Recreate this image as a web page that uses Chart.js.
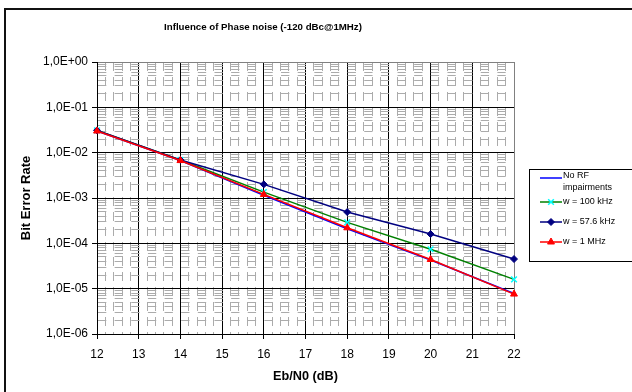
<!DOCTYPE html>
<html>
<head>
<meta charset="utf-8">
<script src="https://cdn.jsdelivr.net/npm/chart.js@4.4.1/dist/chart.umd.min.js"></script>
<style>
    html, body { margin: 0; padding: 0; background: #fff; }
    #wrap { width: 632px; height: 392px; }
</style>
</head>
<body>
<div id="wrap"><canvas id="ber-chart" width="632" height="392"></canvas></div>
<script>
"use strict";

// values
const ebN0 = [12, 14, 16, 18, 20, 22];
const berNoRf = [3.0e-2, 6.7e-3, 1.15e-3, 2.1e-4, 4.3e-5, 7.8e-6];
const ber100k = [3.1e-2, 6.9e-3, 1.35e-3, 2.9e-4, 7.4e-5, 1.6e-5];
const ber57k = [3.1e-2, 6.9e-3, 2.0e-3, 4.9e-4, 1.6e-4, 4.5e-5];
const ber1M = [3.0e-2, 6.7e-3, 1.2e-3, 2.2e-4, 4.4e-5, 7.6e-6];

const xTickLabels = [12, 13, 14, 15, 16, 17, 18, 19, 20, 21, 22];
const yDecades = [1, 1e-1, 1e-2, 1e-3, 1e-4, 1e-5, 1e-6];
const yTickLabels = ['1,0E+00', '1,0E-01', '1,0E-02', '1,0E-03', '1,0E-04', '1,0E-05', '1,0E-06'];

const seriesNames = ['No RF impairments', 'w = 100 kHz', 'w = 57.6 kHz', 'w = 1 MHz'];

const FONT = '"Liberation Sans", Arial, sans-serif';
const MINOR = '#ababab';

function isMajorX(v) {
    return Math.abs(v - Math.round(v)) < 1e-6;
}
function isMajorY(v) {
    const l = Math.log10(v);
    return Math.abs(l - Math.round(l)) < 1e-6;
}
function toPoints(ys) {
    return ebN0.map((x, i) => ({ x: x, y: ys[i] }));
}

const chartFrame = {
    id: 'chartFrame',
    beforeDraw(chart) {
        const c = chart.ctx;
        c.save();
        c.strokeStyle = '#111';
        c.lineWidth = 2;
        c.strokeRect(5, 9, 700, 500);
        c.restore();
    },
    afterDraw(chart) {
        const c = chart.ctx;
        c.save();
        // title
        c.fillStyle = '#000';
        c.font = 'bold 9.7px ' + FONT;
        c.textAlign = 'center';
        c.textBaseline = 'middle';
        c.fillText('Influence of Phase noise (-120 dBc@1MHz)', 263, 27);

        // legend
        c.strokeStyle = '#000';
        c.lineWidth = 1;
        c.strokeRect(529.5, 169.5, 130, 92);
        const rows = [
            { y: 178, text: ['No RF', 'impairments'] },
            { y: 202, text: ['w = 100 kHz'] },
            { y: 222, text: ['w = 57.6 kHz'] },
            { y: 242, text: ['w = 1 MHz'] }
        ];
        c.font = '9px ' + FONT;
        c.textAlign = 'left';
        chart.data.datasets.forEach((ds, i) => {
            const r = rows[i];
            c.strokeStyle = ds.borderColor;
            c.lineWidth = 1.5;
            c.beginPath();
            c.moveTo(540, r.y);
            c.lineTo(562, r.y);
            c.stroke();
            if (ds.pointRadius > 0) {
                const opts = {
                    pointStyle: ds.pointStyle,
                    radius: ds.pointRadius,
                    rotation: 0,
                    borderWidth: ds.pointBorderWidth
                };
                c.strokeStyle = ds.pointBorderColor;
                c.fillStyle = ds.pointBackgroundColor;
                c.lineWidth = ds.pointBorderWidth;
                Chart.helpers.drawPoint(c, opts, 551, r.y);
            }
            c.fillStyle = '#000';
            r.text.forEach((t, k) => c.fillText(t, 563, r.y - (r.text.length > 1 ? 2 : 0) + k * 12));
        });
        c.restore();
    }
};

new Chart(document.getElementById('ber-chart'), {
    type: 'line',
    data: {
        datasets: [{
            label: seriesNames[0],
            data: toPoints(berNoRf),
            borderColor: '#0000ff',
            borderWidth: 1.5,
            pointRadius: 0,
            order: 4
        }, {
            label: seriesNames[1],
            data: toPoints(ber100k),
            borderColor: '#008000',
            borderWidth: 1.5,
            pointStyle: 'crossRot',
            pointRadius: 4,
            pointBorderColor: '#00ffff',
            pointBackgroundColor: '#00ffff',
            pointBorderWidth: 1.5,
            order: 3
        }, {
            label: seriesNames[2],
            data: toPoints(ber57k),
            borderColor: '#000080',
            borderWidth: 1.5,
            pointStyle: 'rectRot',
            pointRadius: 3.5,
            pointBorderColor: '#000080',
            pointBackgroundColor: '#000080',
            pointBorderWidth: 1,
            order: 2
        }, {
            label: seriesNames[3],
            data: toPoints(ber1M),
            borderColor: '#ff0000',
            borderWidth: 1.5,
            pointStyle: 'triangle',
            pointRadius: 4,
            pointBorderColor: '#ff0000',
            pointBackgroundColor: '#ff0000',
            pointBorderWidth: 1,
            order: 1
        }]
    },
    options: {
        responsive: false,
        animation: false,
        devicePixelRatio: 1,
        layout: {
            padding: { left: 0, right: 118, top: 62, bottom: 0 }
        },
        elements: {
            line: { tension: 0, fill: false }
        },
        datasets: {
            line: { clip: false }
        },
        plugins: {
            legend: { display: false },
            title: { display: false },
            tooltip: { enabled: false }
        },
        scales: {
            x: {
                type: 'linear',
                min: xTickLabels[0],
                max: xTickLabels[xTickLabels.length - 1],
                afterBuildTicks: scale => {
                    const ticks = [];
                    for (let i = 0; i < xTickLabels.length; i++) {
                        ticks.push({ value: xTickLabels[i] });
                        if (i < xTickLabels.length - 1) {
                            for (let k = 1; k < 5; k++) ticks.push({ value: xTickLabels[i] + k / 5 });
                        }
                    }
                    scale.ticks = ticks;
                },
                afterFit: scale => { scale.height = 58; },
                ticks: {
                    autoSkip: false,
                    maxRotation: 0,
                    padding: 8,
                    color: '#000',
                    font: { family: FONT, size: 12 },
                    callback: v => isMajorX(v) ? String(Math.round(v)) : ''
                },
                grid: {
                    color: ctx => {
                        if (!ctx.tick) return '#000';
                        if (ctx.tick.value === 22) return '#808080';
                        return isMajorX(ctx.tick.value) ? '#000' : MINOR;
                    },
                    lineWidth: 1,
                    tickLength: 5,
                    tickColor: ctx => ctx.tick && isMajorX(ctx.tick.value) ? '#000' : 'rgba(0,0,0,0)'
                },
                border: {
                    color: '#000',
                    width: 1,
                    dash: ctx => ctx.tick && !isMajorX(ctx.tick.value) ? [9, 6] : []
                },
                title: {
                    display: true,
                    text: 'Eb/N0 (dB)',
                    color: '#000',
                    font: { family: FONT, size: 12.7, weight: 'bold' },
                    padding: { top: 0, bottom: 8 }
                }
            },
            y: {
                type: 'logarithmic',
                min: yDecades[yDecades.length - 1],
                max: yDecades[0],
                afterBuildTicks: scale => {
                    const ticks = [];
                    for (let i = yDecades.length - 1; i >= 0; i--) {
                        ticks.push({ value: yDecades[i], major: true });
                        if (i > 0) {
                            for (let k = 2; k < 10; k++) ticks.push({ value: yDecades[i] * k });
                        }
                    }
                    scale.ticks = ticks;
                },
                afterFit: scale => { scale.width = 97; },
                ticks: {
                    autoSkip: false,
                    padding: 4,
                    color: '#000',
                    font: { family: FONT, size: 12 },
                    callback: v => {
                        const idx = yDecades.findIndex(d => Math.abs(d - v) < d * 1e-6);
                        return idx >= 0 ? yTickLabels[idx] : '';
                    }
                },
                grid: {
                    color: ctx => {
                        if (!ctx.tick) return '#000';
                        if (ctx.tick.value === 1) return '#808080';
                        return isMajorY(ctx.tick.value) ? '#000' : MINOR;
                    },
                    lineWidth: 1,
                    tickLength: 5,
                    tickColor: ctx => ctx.tick && isMajorY(ctx.tick.value) ? '#000' : 'rgba(0,0,0,0)'
                },
                border: {
                    color: '#000',
                    width: 1,
                    dash: ctx => ctx.tick && !isMajorY(ctx.tick.value) ? [8.32, 8.32] : []
                },
                title: {
                    display: true,
                    text: 'Bit Error Rate',
                    color: '#000',
                    font: { family: FONT, size: 13, weight: 'bold' },
                    padding: { top: 19, bottom: 0 }
                }
            }
        }
    },
    plugins: [chartFrame]
});
</script>
</body>
</html>
